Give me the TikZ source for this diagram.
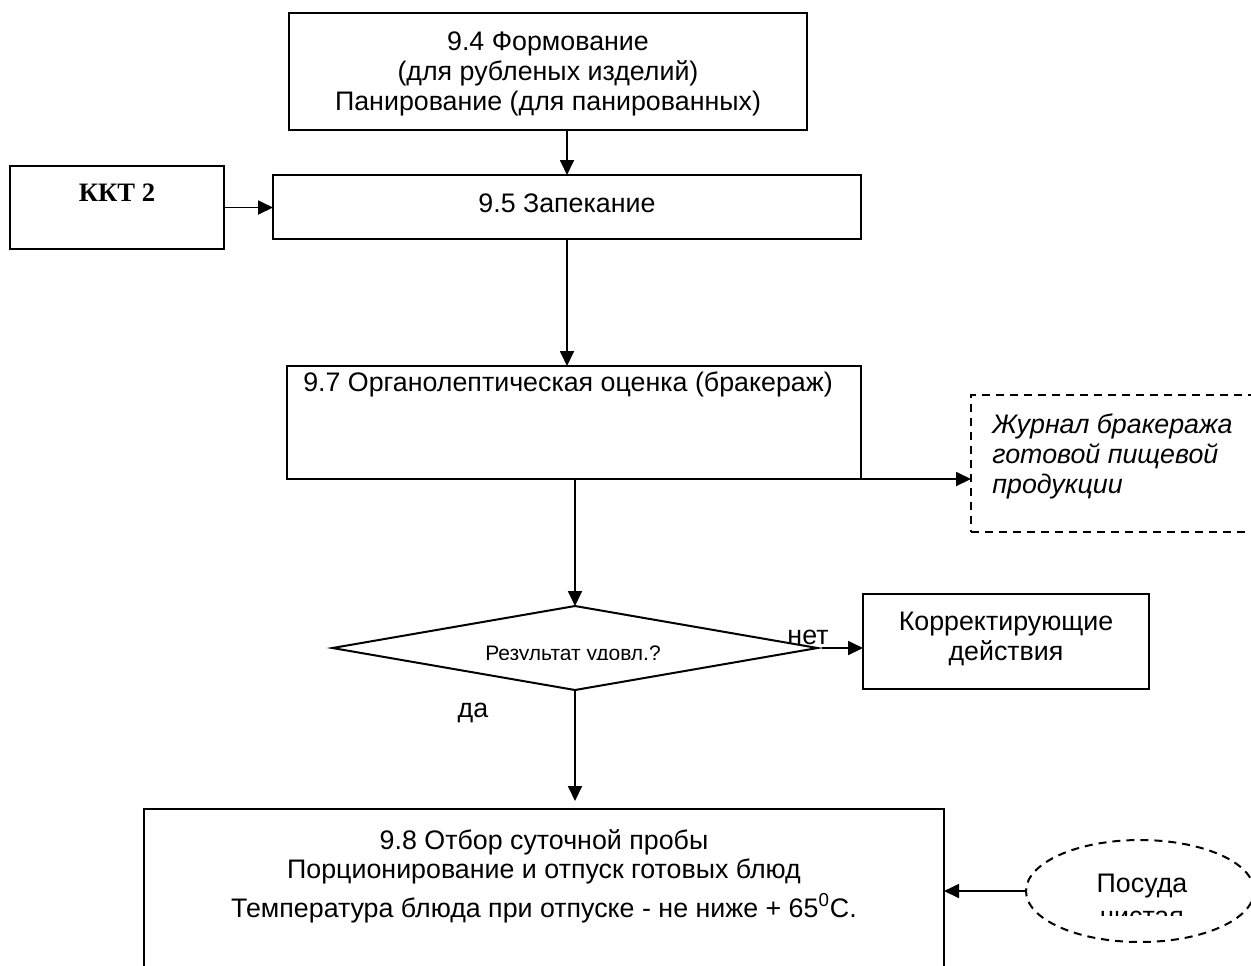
\documentclass[tikz,border=0pt]{standalone}
\usepackage{fontspec}
\setmainfont{Liberation Sans}
\newfontfamily\kktfont{Liberation Serif}
\usetikzlibrary{shapes.geometric,arrows.meta}
\tikzset{
  box/.style={draw, line width=1pt, inner sep=0pt, outer sep=0pt},
  dbox/.style={draw, line width=1pt, dash pattern=on 4pt off 3pt, inner sep=0pt, outer sep=0pt},
  arr/.style={line width=0.9pt, -{Triangle[length=7.5pt,width=7pt]}},
  txt/.style={inner sep=0pt, align=center, font=\fontsize{13.4}{15}\selectfont},
}
\begin{document}
\begin{tikzpicture}[x=0.5pt,y=-0.5pt]
\useasboundingbox (0,0) rectangle (1251,965);
\clip (0,0) rectangle (1251,965);
% boxes
\node[box, minimum width=259pt, minimum height=58.5pt] (b94) at (548,71.5) {};
\node[box, minimum width=107pt, minimum height=41.5pt] (kkt) at (117,207.5) {};
\node[box, minimum width=294pt, minimum height=32pt] (b95) at (567,207) {};
\node[box, minimum width=287pt, minimum height=56.5pt] (b97) at (574,422.5) {};
\node[dbox, minimum width=145.5pt, minimum height=68.5pt] (jour) at (1116.5,463.5) {};
\node[box, diamond, minimum width=242.5pt, minimum height=42pt] (dia) at (575,648) {};
\node[box, minimum width=143pt, minimum height=47.5pt] (korr) at (1006,641.5) {};
\node[box, minimum width=400pt, minimum height=100.5pt] (b98) at (544,909.5) {};
\node[dbox, ellipse, minimum width=114pt, minimum height=51pt] (pos) at (1140,891) {};
% texts
\node[txt] (t94) at (548,74) {9.4 Формование\\(для рубленых изделий)\\Панирование (для панированных)};
\node[inner sep=0pt, font=\kktfont\bfseries\fontsize{13.3}{15}\selectfont] (tkkt) at (117,193) {ККТ 2};
\node[txt] (t95) at (567,203) {9.5 Запекание};
\node[txt] (t97) at (568,384) {9.7 Органолептическая оценка (бракераж)};
\node[txt, anchor=west, align=left, font=\itshape\fontsize{13.4}{15}\selectfont] (tjour) at (992,456) {Журнал бракеража\\готовой пищевой\\продукции};
\begin{scope}
\clip (420,620) rectangle (730,659);
\node[inner sep=0pt, anchor=base, font=\fontsize{10.5}{12}\selectfont] (tdia) at (573,660) {Результат удовл.?};
\end{scope}
\node[txt] (tkorr) at (1006,639) {Корректирующие\\действия};
\node[txt] (tnet) at (808,637) {нет};
\node[txt] (tda) at (473,713) {да};
\node[txt, anchor=base] (t98a) at (544,849) {9.8 Отбор суточной пробы};
\node[txt, anchor=base] (t98b) at (544,878) {Порционирование и отпуск готовых блюд};
\node[txt, anchor=base] (t98c) at (544,917) {Температура блюда при отпуске - не ниже + 65\textsuperscript{0}C.};
\node[txt, anchor=base] (tpos1) at (1142,892) {Посуда};
\begin{scope}
\clip (1050,896) rectangle (1240,915);
\node[txt, anchor=base] (tpos2) at (1142,925) {чистая};
\end{scope}
% connectors
\draw[arr] (b95.north |- b94.south) -- (b95.north);
\draw[arr] (kkt.east) -- (kkt.east -| b95.west);
\draw[arr] (b95.south) -- (b95.south |- b97.north);
\draw[arr] (b97.south east) -- (b97.south east -| jour.west);
\draw[arr] (dia.north |- b97.south) -- (dia.north);
\draw[arr] ([xshift=2pt]dia.east) -- (dia.east -| korr.west);
\draw[arr] (dia.south) -- ([yshift=4pt]dia.south |- b98.north);
\draw[arr] (pos.west) -- (pos.west -| b98.east);
\end{tikzpicture}
\end{document}
